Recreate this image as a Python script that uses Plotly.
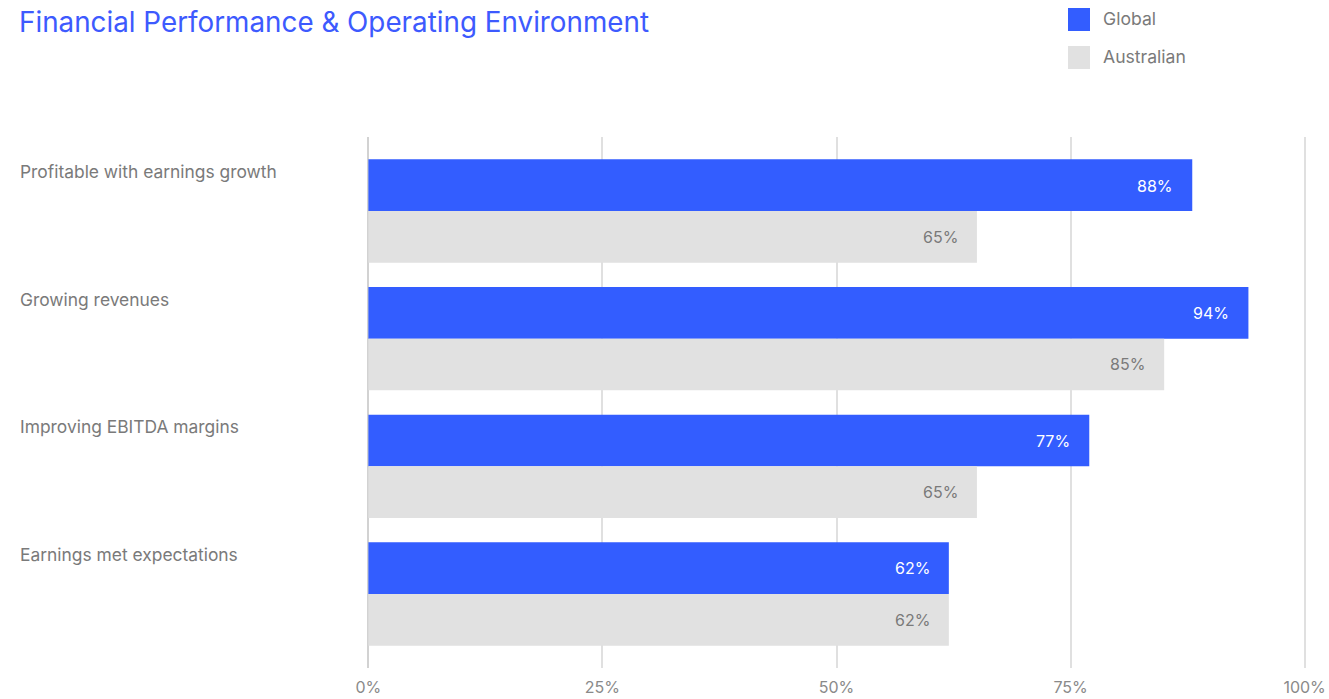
import plotly.graph_objects as go

categories = [
    "Profitable with earnings growth",
    "Growing revenues",
    "Improving EBITDA margins",
    "Earnings met expectations",
]
global_values = [88, 94, 77, 62]
australian_values = [65, 85, 65, 62]
series_names = ["Global", "Australian"]
tick_values = [0, 25, 50, 75, 100]
tick_labels = ["0%", "25%", "50%", "75%", "100%"]

BLUE = "#335dff"
GREY = "#e1e1e1"
TEXT_GREY = "#7a7a7a"
FONT = "Inter, Roboto, sans-serif"

W, H = 1329, 699
X0, X100 = 368, 1305          # pixel positions of 0% and 100%
PAD = 0.15                    # small range pad so the edge gridlines render
px_per_unit = (X100 - X0) / 100
M_L = round(X0 - PAD * px_per_unit)
M_R = round(W - (X100 + PAD * px_per_unit))
M_T, M_B = 137, 31
plot_w = W - M_L - M_R
plot_h = H - M_T - M_B


def px_to_paper_x(px):
    return (px - M_L) / plot_w


def px_to_paper_y(py):
    return 1 + (M_T - py) / plot_h


fig = go.Figure()
positions = list(range(len(categories)))

series = [(series_names[0], global_values, BLUE, "white"),
          (series_names[1], australian_values, GREY, TEXT_GREY)]
for name, vals, color, txt_color in series:
    fig.add_trace(go.Bar(
        y=positions, x=vals, name=name, orientation="h",
        marker=dict(color=color, line=dict(width=0)),
        showlegend=False, hoverinfo="x+name",
    ))
    # value labels near the bar end
    off = -0.2 if name == series_names[0] else 0.2
    for p, v in zip(positions, vals):
        fig.add_annotation(
            x=v, y=p + off, xref="x", yref="y", text=f"{v}%",
            showarrow=False, xanchor="right", xshift=-17,
            font=dict(family=FONT, size=16, color=txt_color),
        )

# category labels on the left
for p, c in zip(positions, categories):
    fig.add_annotation(
        x=px_to_paper_x(18), y=p - 0.31, xref="paper", yref="y",
        text=c, showarrow=False, xanchor="left", yanchor="middle",
        font=dict(family=FONT, size=17.4, color=TEXT_GREY),
    )

# legend swatches
for i, (name, _, color, _) in enumerate(series):
    y_top = 8 + i * 38
    fig.add_shape(
        type="rect", xref="paper", yref="paper",
        x0=px_to_paper_x(1068), x1=px_to_paper_x(1090),
        y0=px_to_paper_y(y_top), y1=px_to_paper_y(y_top + 23),
        fillcolor=color, line=dict(width=0),
    )
    fig.add_annotation(
        x=px_to_paper_x(1101), xref="paper", yref="paper",
        y=px_to_paper_y(y_top + 11), yanchor="middle",
        text=name, showarrow=False, xanchor="left",
        font=dict(family=FONT, size=17.6, color=TEXT_GREY),
    )

fig.update_layout(
    width=W, height=H,
    margin=dict(l=M_L, r=M_R, t=M_T, b=M_B, autoexpand=False),
    paper_bgcolor="white", plot_bgcolor="white",
    barmode="group", bargap=0.19, bargroupgap=0,
    title=dict(
        text="Financial Performance &amp; Operating Environment",
        x=19 / W, xanchor="left", y=1 - 22 / H, yanchor="middle",
        font=dict(family=FONT, size=27.8, color="#3d5afe"),
    ),
    xaxis=dict(
        range=[-PAD, 100 + PAD], tickvals=tick_values, ticktext=tick_labels,
        showgrid=True, gridcolor="#e0e0e0", gridwidth=2,
        zeroline=True, zerolinecolor="#d2d2d2", zerolinewidth=2,
        showline=False, ticks="", automargin=False,
        ticklabelstandoff=8,
        tickfont=dict(family=FONT, size=16, color="#8a8a8a"),
        fixedrange=True,
    ),
    yaxis=dict(
        range=[len(categories) - 0.5 + 0.08, -0.5 - 0.08],
        showticklabels=False, showgrid=False, zeroline=False,
        showline=False, ticks="", automargin=False, fixedrange=True,
    ),
)

fig.write_html("out.html")
